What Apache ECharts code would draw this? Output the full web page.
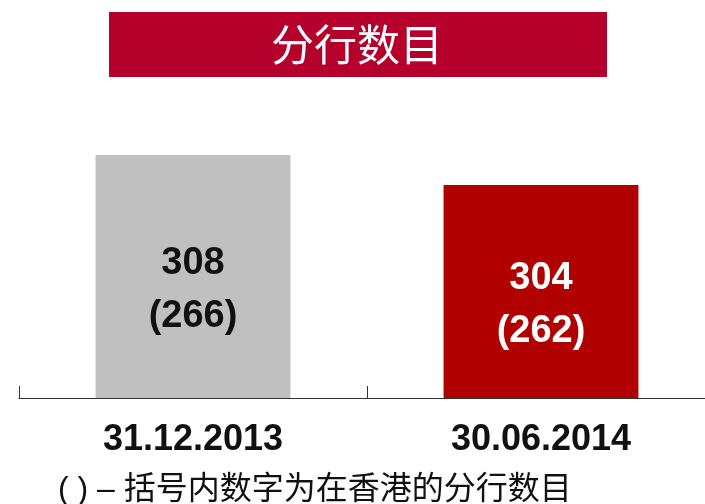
<!DOCTYPE html>
<html>
<head>
<meta charset="utf-8">
<script src="https://cdn.jsdelivr.net/npm/echarts@6/dist/echarts.min.js"></script>
<style>
  html, body { margin: 0; padding: 0; background: #fff; }
  #chart { width: 705px; height: 504px; }
</style>
</head>
<body>
<div id="chart"></div>
<script>
const categories = ['31.12.2013', '30.06.2014'];
const totalBranches = [308, 304];
const hkBranches = [266, 262];
const barColors = ['#c0c0c0', '#b00000'];
const labelColors = ['#111', '#fff'];

const chart = echarts.init(document.getElementById('chart'));

chart.setOption({
    animation: false,
    grid: { left: 19, width: 696, top: 155, bottom: 106, outerBoundsMode: 'none' },
    xAxis: {
        type: 'category',
        data: categories,
        axisLine: { lineStyle: { color: '#333', width: 1 } },
        axisTick: { show: true, inside: true, length: 12, lineStyle: { color: '#333' } },
        axisLabel: {
            margin: 24,
            color: '#111',
            fontSize: 36,
            fontWeight: 'bold',
            fontFamily: 'Liberation Sans, Arial, sans-serif'
        }
    },
    yAxis: {
        type: 'value',
        min: 275.6,
        max: 308,
        show: false,
        splitLine: { show: false }
    },
    series: [{
        type: 'bar',
        barWidth: '56%',
        data: totalBranches.map((v, i) => ({
            value: v,
            itemStyle: { color: barColors[i] },
            label: { color: labelColors[i] }
        })),
        label: {
            show: true,
            position: 'inside',
            offset: [0, 14],
            fontSize: 38,
            fontWeight: 'bold',
            lineHeight: 53,
            fontFamily: 'Liberation Sans, Arial, sans-serif',
            formatter: (p) => p.value + '\n(' + hkBranches[p.dataIndex] + ')'
        }
    }],
    graphic: [
        {
            type: 'rect',
            left: 109, top: 12,
            shape: { width: 498, height: 65 },
            style: { fill: '#b5002b' }
        },
        {
            type: 'text',
            x: 357, y: 45,
            style: {
                text: '分行数目',
                fill: '#fff',
                fontSize: 43,
                fontFamily: 'Noto Sans CJK SC',
                align: 'center',
                verticalAlign: 'middle'
            }
        },
        {
            type: 'text',
            x: 58, y: 490,
            style: {
                text: '( ) – 括号内数字为在香港的分行数目',
                fill: '#111',
                fontSize: 32,
                fontFamily: 'Liberation Sans, Noto Sans CJK SC',
                verticalAlign: 'middle'
            }
        }
    ]
});
</script>
</body>
</html>
